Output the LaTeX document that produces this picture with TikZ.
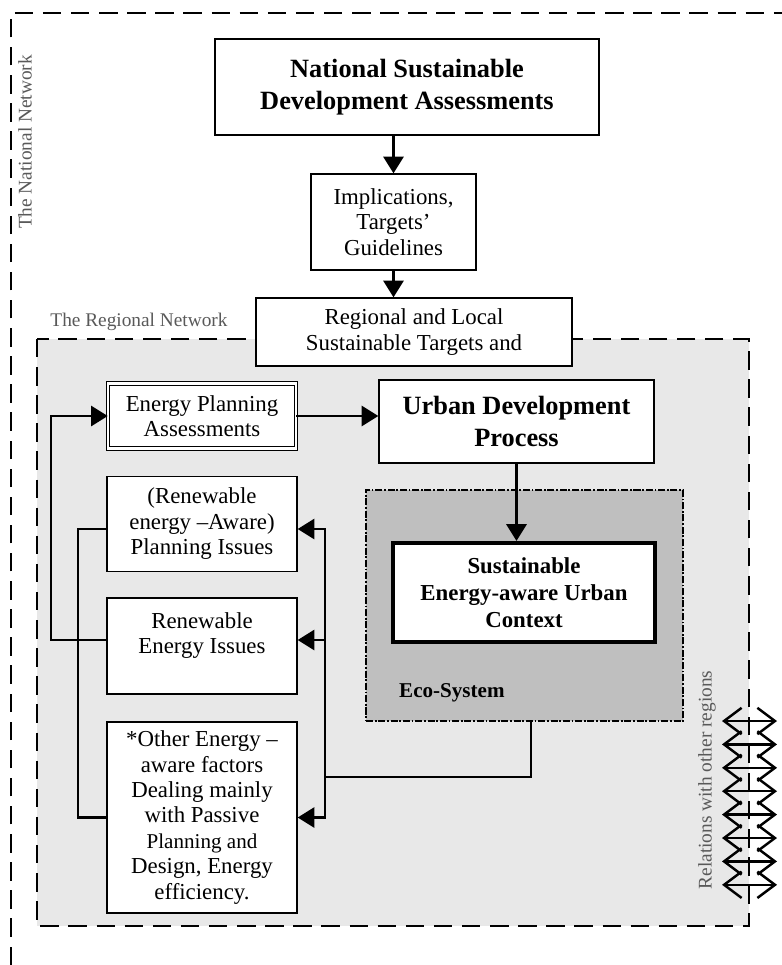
\documentclass[tikz,border=0pt]{standalone}
\usepackage{fontspec}
\setmainfont{Liberation Serif}
\usetikzlibrary{arrows.meta,positioning,calc}

\begin{document}
\begin{tikzpicture}[x=0.02cm,y=-0.02cm,
  box/.style={draw,fill=white,line width=0.8pt,align=center,inner sep=2pt},
  bodytext/.style={font=\fontsize{13}{14.5}\selectfont},
  headtext/.style={font=\bfseries\fontsize{15}{18.2}\selectfont},
  netline/.style={line width=1.6pt,dash pattern=on 10.5pt off 5.5pt},
  netlabel/.style={text=black!65,font=\fontsize{11}{13}\selectfont},
  arr/.style={line width=1.3pt,-{Triangle[length=9.5pt,width=11.5pt]}},
  link/.style={line width=1.3pt},
  relarr/.style={line width=1.4pt,{Straight Barb[length=10pt,width=15pt]}-{Straight Barb[length=10pt,width=15pt]}}]

  \useasboundingbox (0,0) rectangle (782,965);

  % National network frame
  \draw[netline] (11,965) -- (11,13) -- (782,13);
  \node[netlabel,rotate=90] (natlabel) at (25,142) {The National Network};

  % Regional network frame
  \draw[netline,fill=black!9] (37,339) rectangle (749,926);
  \node[netlabel] (reglabel) at (139,322) {The Regional Network};

  % Top chain
  \node[box,headtext,minimum width=7.68cm,minimum height=1.92cm] (nsda) at (407,87)
    {National Sustainable\\Development Assessments};
  \node[box,bodytext,minimum width=3.3cm,minimum height=1.92cm] (impl) at (393.5,222)
    {Implications,\\Targets’\\Guidelines};
  \node[box,bodytext,minimum width=6.32cm,minimum height=1.36cm] (regtarget) at (414,332)
    {Regional and Local\\Sustainable Targets and};

  % Planning and urban development
  \node[box,bodytext,line width=0.6pt,double,double distance=1.3pt,minimum width=3.75cm,minimum height=1.3cm] (epa) at (202,416)
    {Energy Planning\\Assessments};
  \node[box,headtext,minimum width=5.5cm,minimum height=1.66cm] (udp) at (516.5,421.5)
    {Urban Development\\Process};

  % Eco-system
  \node[draw,fill=black!25,line width=1.3pt,dash pattern=on 4pt off 1pt on 1pt off 1pt,
    minimum width=6.34cm,minimum height=4.62cm] (eco) at (524.5,605.5) {};
  \node[anchor=west,font=\bfseries\fontsize{12}{14}\selectfont] (ecolabel) at (393,693) {Eco-System};
  \node[box,line width=2.4pt,font=\bfseries\fontsize{13}{15.4}\selectfont,
    minimum width=5.24cm,minimum height=1.98cm] (seuc) at (524,592.5)
    {Sustainable\\Energy-aware Urban\\Context};

  % Issues column
  \node[box,bodytext,minimum width=3.8cm,minimum height=1.9cm] (pi) at (202,524)
    {(Renewable\\energy –Aware)\\Planning Issues};
  \node[box,bodytext,minimum width=3.8cm,minimum height=1.92cm] (rei) at (202,646)
    {Renewable\\Energy Issues\\~};
  \node[box,bodytext,minimum width=3.8cm,minimum height=3.82cm] (other) at (202,817.5)
    {*Other Energy –\\aware factors\\Dealing mainly\\with Passive\\\fontsize{12}{14.5}\selectfont Planning and\\Design, Energy\\efficiency.};

  % Main flow
  \draw[arr] (impl.north |- nsda.south) -- (impl.north);
  \draw[arr] (impl.south) -- (impl.south |- regtarget.north);
  \draw[arr] (epa.east) -- (epa.east -| udp.west);
  \draw[arr] (udp.south) -- (udp.south |- seuc.north);

  % Feedback loops
  \coordinate (reiout) at ([yshift=0.12cm]rei.west);
  \coordinate (reiin) at ([yshift=0.12cm]rei.east);
  \coordinate (piout) at ([yshift=-0.1cm]pi.west);
  \coordinate (piin) at ([yshift=-0.1cm]pi.east);
  \coordinate (busjoin) at (325,777);
  \draw[arr] (reiout) -- ++(-55,0) |- (epa.west);
  \draw[link] (piout) -- ++(-28,0) |- (other.west);
  \draw[link] ([xshift=0.13cm]eco.south) |- (busjoin);
  \draw[arr] (busjoin) |- (piin);
  \draw[arr] (busjoin) |- (other.east);
  \draw[arr] (busjoin |- reiin) -- (reiin);

  % Relations with other regions
  \foreach \k in {0,...,7}{
    \coordinate (rl\k) at (722,721+23.4*\k);
    \coordinate (rr\k) at (777,721+23.4*\k);
    \draw[relarr] (rl\k) -- (rr\k);
  }
  \node[netlabel,rotate=90] (rellabel) at (707,780) {Relations with other regions};
\end{tikzpicture}
\end{document}
